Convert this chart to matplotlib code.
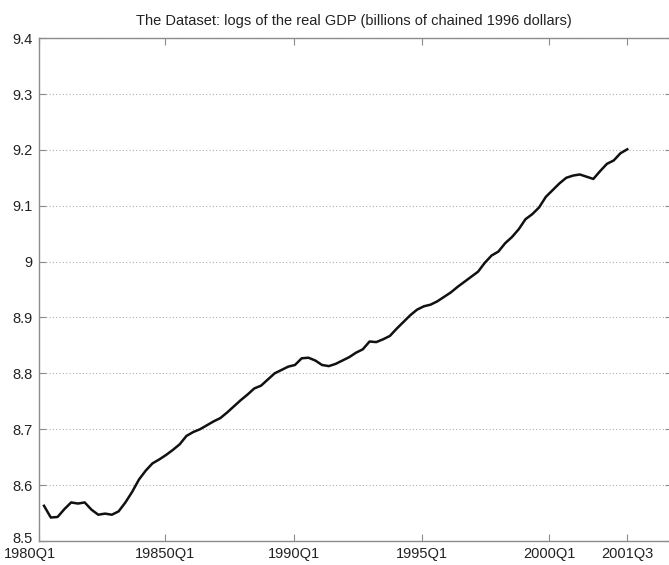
import matplotlib
matplotlib.use('Agg')
import matplotlib.pyplot as plt
import matplotlib.transforms as mtransforms

plt.rcParams['font.family'] = ['Liberation Sans', 'DejaVu Sans']

# log real GDP, quarterly 1980Q1 .. 2001Q3
log_gdp = [
    8.563, 8.542, 8.543, 8.557, 8.569, 8.567, 8.569, 8.556, 8.547, 8.549,
    8.547, 8.553, 8.569, 8.588, 8.610, 8.626, 8.639, 8.646, 8.654, 8.663,
    8.673, 8.688, 8.695, 8.700, 8.707, 8.714, 8.720, 8.730, 8.741, 8.752,
    8.762, 8.773, 8.778, 8.789, 8.800, 8.806, 8.812, 8.815, 8.827, 8.828,
    8.823, 8.815, 8.813, 8.817, 8.823, 8.829, 8.837, 8.843, 8.857, 8.856,
    8.861, 8.867, 8.880, 8.892, 8.904, 8.914, 8.920, 8.923, 8.929, 8.937,
    8.945, 8.955, 8.964, 8.973, 8.982, 8.998, 9.011, 9.018, 9.033, 9.044,
    9.058, 9.076, 9.085, 9.097, 9.116, 9.128, 9.140, 9.150, 9.154, 9.156,
    9.152, 9.148, 9.162, 9.175, 9.181, 9.194, 9.201,
]
quarters = list(range(len(log_gdp)))

x_tick_pos = [-0.74, 17.9, 36.8, 55.7, 74.5, 86.0]
x_tick_labels = ['1980Q1', '19850Q1', '1990Q1', '1995Q1', '2000Q1', '2001Q3']
y_ticks = [8.5, 8.6, 8.7, 8.8, 8.9, 9.0, 9.1, 9.2, 9.3, 9.4]
y_tick_labels = ['8.5', '8.6', '8.7', '8.8', '8.9', '9', '9.1', '9.2', '9.3', '9.4']

fig = plt.figure(figsize=(6.69, 5.65), dpi=100)
ax = fig.add_axes([0.0583, 0.0425, 0.9462, 0.890])

ax.plot(quarters, log_gdp, color='#111111', linewidth=1.8)

ax.set_xlim(-0.74, 92.6)
ax.set_ylim(8.5, 9.4)
ax.set_xticks(x_tick_pos)
ax.set_xticklabels(x_tick_labels)
ax.set_yticks(y_ticks)
ax.set_yticklabels(y_tick_labels)

ax.yaxis.grid(True, linestyle=(0, (1, 2)), color='#b0b0b0', linewidth=0.8)
ax.xaxis.grid(False)
ax.set_axisbelow(True)

for side in ax.spines.values():
    side.set_color('#8c8c8c')
    side.set_linewidth(1.0)

ax.tick_params(axis='both', direction='in', length=5, width=0.8, color='#8c8c8c',
               labelsize=10.5, labelcolor='#222222', top=True, right=True)
ax.tick_params(axis='x', pad=4)
ax.tick_params(axis='y', pad=4.5)

# first x label sits left of the axis, bottom y label a bit higher
xl = ax.get_xticklabels()[0]
xl.set_transform(xl.get_transform() + mtransforms.ScaledTranslation(-9 / 100, 0, fig.dpi_scale_trans))
yl = ax.get_yticklabels()[0]
yl.set_transform(yl.get_transform() + mtransforms.ScaledTranslation(0, 3 / 100, fig.dpi_scale_trans))

fig.text(354 / 669, 1 - 21 / 565,
         'The Dataset: logs of the real GDP (billions of chained 1996 dollars)',
         fontsize=10.5, color='#222222', ha='center', va='center')

fig.savefig('out.png', dpi=100)
